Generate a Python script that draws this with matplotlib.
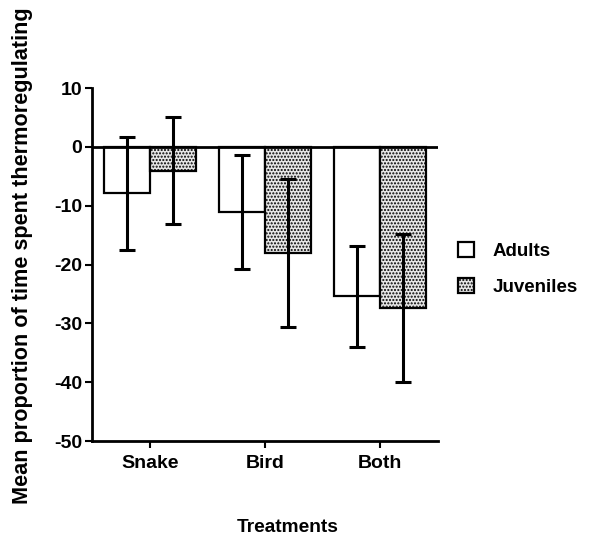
import numpy as np
import matplotlib
matplotlib.use('Agg')
import matplotlib.pyplot as plt

plt.rcParams['font.family'] = ['Liberation Sans', 'DejaVu Sans']
plt.rcParams['font.weight'] = 'bold'
plt.rcParams['axes.unicode_minus'] = False
plt.rcParams['hatch.linewidth'] = 1.0
plt.rcParams['hatch.color'] = '#666666'

# data
treatments = ['Snake', 'Bird', 'Both']
adults_mean = [-7.9, -11.1, -25.4]
adults_err = [9.6, 9.7, 8.6]
juveniles_mean = [-4.1, -18.0, -27.4]
juveniles_err = [9.1, 12.6, 12.5]

x = np.arange(len(treatments))
w = 0.4

fig = plt.figure(figsize=(5.9, 5.39), dpi=100)
ax = fig.add_axes([92 / 590, 1 - 441 / 539, (438 - 92) / 590, (441 - 88) / 539])

ax.bar(x - w / 2, adults_mean, w, color='white', edgecolor='black', linewidth=1.6,
       label='Adults', zorder=2)
ax.bar(x + w / 2, juveniles_mean, w, color='#e6e6e6', edgecolor='black', linewidth=1.6,
       hatch='.....', label='Juveniles', zorder=2)
ax.errorbar(x - w / 2, adults_mean, yerr=adults_err, fmt='none', ecolor='black',
            elinewidth=2.2, capsize=6, capthick=2.2, zorder=3)
ax.errorbar(x + w / 2, juveniles_mean, yerr=juveniles_err, fmt='none', ecolor='black',
            elinewidth=2.2, capsize=6, capthick=2.2, zorder=3)

ax.axhline(0, color='black', linewidth=2, zorder=4)

ax.set_xlim(-0.5, 2.5)
ax.set_ylim(-50, 10)
ax.set_yticks([10, 0, -10, -20, -30, -40, -50])
ax.set_xticks(x)
ax.set_xticklabels(treatments)

for s in ['top', 'right']:
    ax.spines[s].set_visible(False)
for s in ['left', 'bottom']:
    ax.spines[s].set_linewidth(2)
ax.tick_params(axis='both', direction='out', length=5, width=1.5, labelsize=14, pad=2)
ax.tick_params(axis='x', pad=5)

fig.text(0.038, 1 - 256 / 539, 'Mean proportion of time spent thermoregulating',
         rotation=90, ha='center', va='center', fontsize=15.6, fontweight='bold')
fig.text(288 / 590, 1 - 528 / 539, 'Treatments', ha='center', va='center',
         fontsize=13.8, fontweight='bold')

ax.legend(loc='center left', bbox_to_anchor=(458 / 590, 1 - 269 / 539),
          bbox_transform=fig.transFigure, frameon=False, fontsize=13.5,
          handlelength=0.85, handleheight=0.85, handletextpad=1.0,
          labelspacing=0.95, borderpad=0, borderaxespad=0)

fig.savefig('out.png', dpi=100)
